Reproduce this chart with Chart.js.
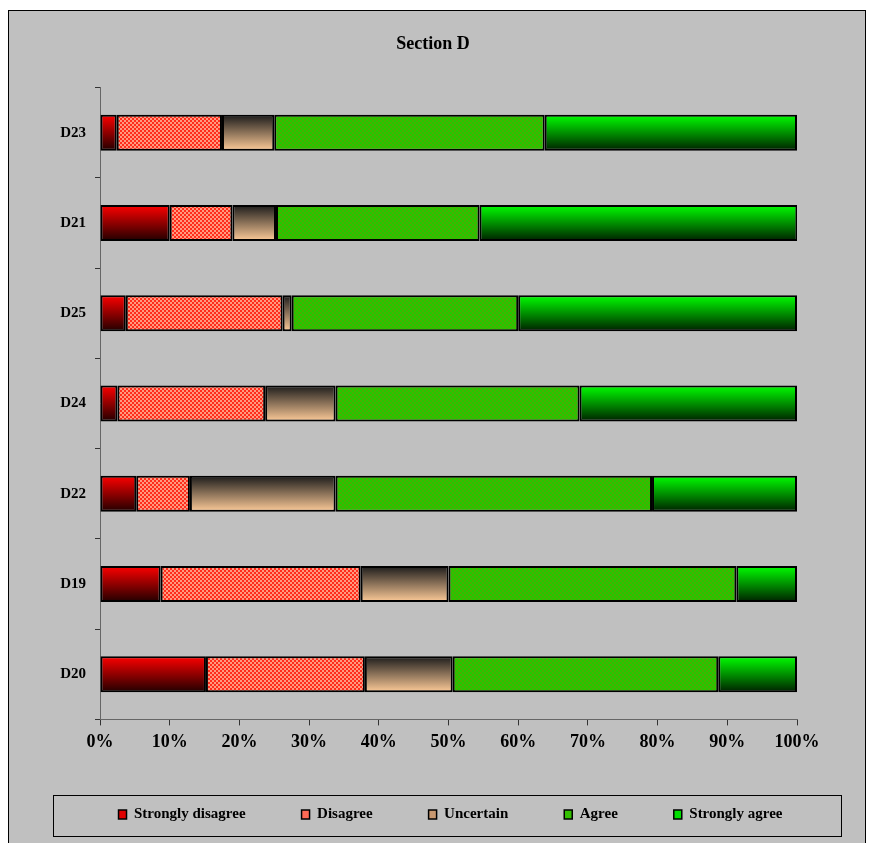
<!DOCTYPE html>
<html>
<head>
    <title>Section D</title>
    <script src="https://cdn.jsdelivr.net/npm/chart.js@4.4.0/dist/chart.umd.min.js"></script>
    <style>
        body { margin: 0; background: #fff; }
        #wrap { width: 870px; height: 843px; }
    </style>
</head>
<body>
    <div id="wrap"><canvas id="sectionChart"></canvas></div>

    <script>
        // Items, top to bottom as shown
        const items = ['D23', 'D21', 'D25', 'D24', 'D22', 'D19', 'D20'];

        // Percent of responses per answer
        const stronglyDisagree = [2.4, 10.0, 3.7, 2.5, 5.2, 8.7, 15.2];
        const disagree         = [15.1, 9.0, 22.5, 21.2, 7.7, 28.7, 22.8];
        const uncertain        = [7.5, 6.25, 1.3, 10.1, 20.9, 12.6, 12.6];
        const agree            = [38.8, 29.2, 32.5, 35.0, 45.4, 41.3, 38.1];
        const stronglyAgree    = [36.2, 45.6, 40.0, 31.2, 20.8, 8.7, 11.3];

        const serif = "'Liberation Serif', 'Times New Roman', serif";

        // small checkered fills
        function checker(a, b, size) {
            const c = document.createElement('canvas');
            c.width = size * 2; c.height = size * 2;
            const g = c.getContext('2d');
            g.fillStyle = a; g.fillRect(0, 0, size * 2, size * 2);
            g.fillStyle = b;
            g.fillRect(0, 0, size, size);
            g.fillRect(size, size, size, size);
            return g.createPattern(c, 'repeat');
        }
        const redChecks = checker('#ff2c1c', '#ff9a80', 2);
        const greenChecks = checker('#22c800', '#48b000', 2);

        // vertical gradient per bar, top colour to bottom colour
        function vGrad(top, bottom, plain) {
            return function (ctx) {
                const chart = ctx.chart;
                if (ctx.dataIndex === undefined || !chart.chartArea) return plain;
                const y = chart.scales.y.getPixelForValue(ctx.dataIndex);
                const half = chart.chartArea.height / items.length * 0.4 / 2;
                const g = chart.ctx.createLinearGradient(0, y - half, 0, y + half);
                g.addColorStop(0, top);
                g.addColorStop(1, bottom);
                return g;
            };
        }

        const legendFills = ['#e00000', '#ff6a55', '#c89870', '#33c000', '#00e000'];

        // grey frame, legend box, and placing of title / legend
        const frame = {
            id: 'frame',
            afterInit(chart) {
                const lg = chart.legend;
                const fit = lg.fit.bind(lg);
                lg.fit = function () {
                    const w = this.maxWidth;
                    this.maxWidth = 1200;   // keep all five on one row
                    fit();
                    this.maxWidth = w;
                    this.width = w;
                    this.height = 84;
                };
            },
            afterLayout(chart) {
                chart.legend.left = 50;
                chart.legend.right = 851;
                chart.legend.top = 751;
                chart.titleBlock.left = 0;
                chart.titleBlock.right = 866;
            },
            beforeDraw(chart) {
                const c = chart.ctx;
                c.save();
                c.fillStyle = '#fff';
                c.fillRect(0, 0, chart.width, chart.height);
                c.fillStyle = '#c0c0c0';
                c.fillRect(8, 10, 858, 840);
                c.strokeStyle = '#000';
                c.lineWidth = 1;
                c.strokeRect(8.5, 10.5, 857, 840);
                c.restore();
            },
            afterDraw(chart) {
                const c = chart.ctx;
                c.save();
                c.strokeStyle = '#000';
                c.lineWidth = 1;
                c.strokeRect(53.5, 795.5, 788, 41);
                c.restore();
            }
        };

        const common = { borderColor: '#000', borderWidth: 2, borderSkipped: false };

        new Chart(document.getElementById('sectionChart'), {
            type: 'bar',
            data: {
                labels: items,
                datasets: [
                    { label: 'Strongly disagree', data: stronglyDisagree, backgroundColor: vGrad('#ff0000', '#200000', '#cc0000'), ...common },
                    { label: 'Disagree', data: disagree, backgroundColor: redChecks, ...common },
                    { label: 'Uncertain', data: uncertain, backgroundColor: vGrad('#1a1a1a', '#ffcc99', '#b08a68'), ...common },
                    { label: 'Agree', data: agree, backgroundColor: greenChecks, ...common },
                    { label: 'Strongly agree', data: stronglyAgree, backgroundColor: vGrad('#00ff00', '#002000', '#00cc00'), ...common }
                ]
            },
            options: {
                indexAxis: 'y',
                responsive: true,
                maintainAspectRatio: false,
                animation: false,
                layout: { padding: { left: 20, right: 73, top: 0, bottom: 0 } },
                datasets: { bar: { categoryPercentage: 1, barPercentage: 0.4 } },
                scales: {
                    x: {
                        stacked: true,
                        min: 0,
                        max: 100,
                        ticks: {
                            stepSize: 10,
                            padding: 6,
                            color: '#000',
                            font: { family: serif, size: 18, weight: 'bold' },
                            callback: v => v + '%'
                        },
                        grid: { drawOnChartArea: false, tickLength: 6, color: '#333' },
                        border: { color: '#666', width: 1 }
                    },
                    y: {
                        stacked: true,
                        afterFit: s => { s.width = 80; },
                        ticks: {
                            padding: 9,
                            color: '#000',
                            font: { family: serif, size: 15, weight: 'bold' }
                        },
                        grid: { drawOnChartArea: false, tickLength: 5, color: '#333' },
                        border: { color: '#666', width: 1 }
                    }
                },
                plugins: {
                    title: {
                        display: true,
                        text: 'Section D',
                        color: '#000',
                        font: { family: serif, size: 18, weight: 'bold' },
                        padding: { top: 34, bottom: 32 }
                    },
                    legend: {
                        position: 'bottom',
                        labels: {
                            boxWidth: 8,
                            boxHeight: 9,
                            padding: 56,
                            color: '#000',
                            font: { family: serif, size: 15, weight: 'bold' },
                            generateLabels(chart) {
                                const base = Chart.defaults.plugins.legend.labels.generateLabels(chart);
                                return base.map((l, i) => ({ ...l, fillStyle: legendFills[i], strokeStyle: '#000', lineWidth: 1.5 }));
                            }
                        }
                    },
                    tooltip: { enabled: false }
                }
            },
            plugins: [frame]
        });
    </script>
</body>
</html>
